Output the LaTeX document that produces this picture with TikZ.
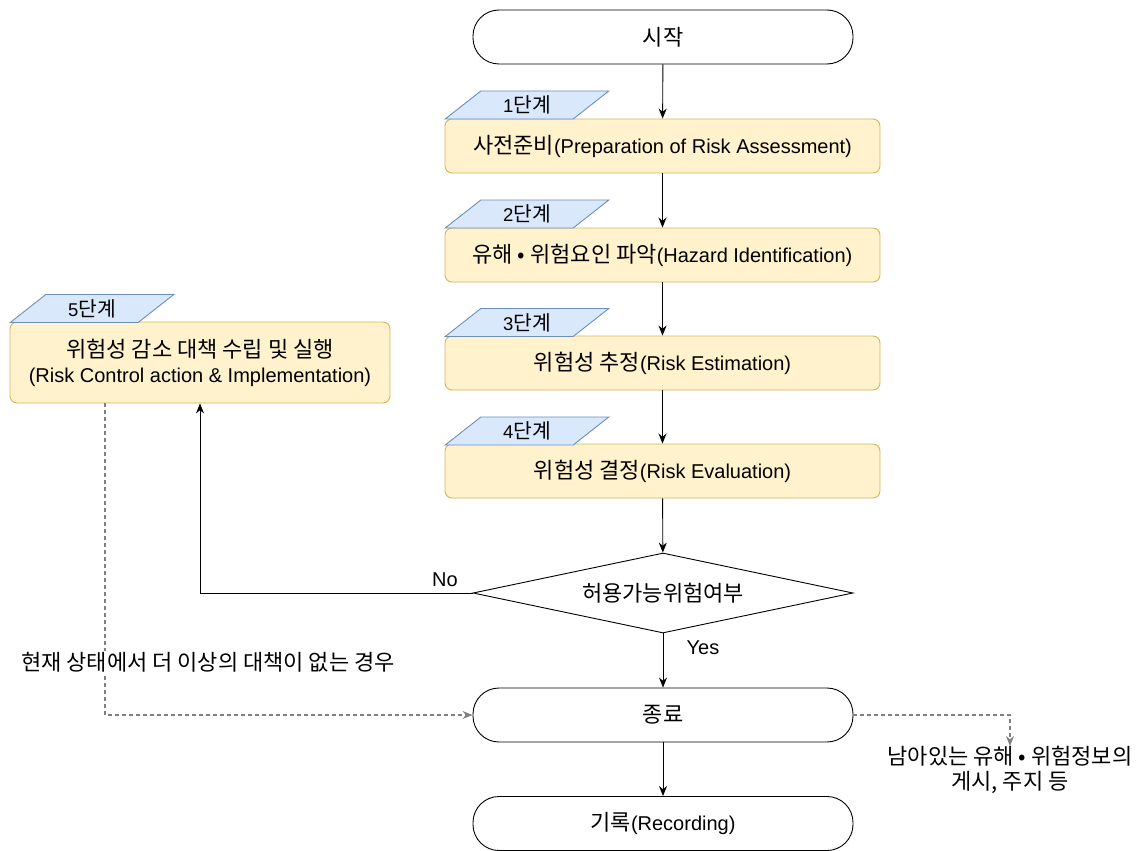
\documentclass[tikz,border=0pt]{standalone}
\usepackage{fontspec}
\setmainfont{Liberation Sans}
\newfontfamily\kr[Scale=1.1]{Noto Sans CJK KR}
\usetikzlibrary{shapes.geometric,arrows.meta}
\definecolor{boxfill}{HTML}{FFF2CC}
\definecolor{boxline}{HTML}{D6B656}
\definecolor{tagfill}{HTML}{DAE8FC}
\definecolor{tagline}{HTML}{6C8EBF}
\definecolor{dashgray}{HTML}{808080}
\begin{document}
\begin{tikzpicture}[x=1pt,y=-1pt,
  font=\fontsize{20}{25}\selectfont,
  terminal/.style={draw, line width=0.9pt, rounded corners=26pt, minimum width=380pt, minimum height=54pt, fill=white, inner sep=0pt},
  stepbox/.style={draw=boxline, fill=boxfill, line width=0.9pt, rounded corners=7pt, minimum width=435pt, minimum height=54pt, inner sep=0pt, align=center},
  tagbox/.style={trapezium, trapezium left angle=45, trapezium right angle=135, trapezium stretches=true, draw=tagline, fill=tagfill, line width=0.9pt, minimum width=164pt, minimum height=28pt, inner sep=0pt, font=\fontsize{18.5}{22}\selectfont},
  decision/.style={diamond, aspect=4.75, draw, line width=0.9pt, minimum width=380pt, minimum height=80pt, inner sep=0pt, fill=white},
  flow/.style={draw, line width=0.9pt, -{Stealth[length=10pt,width=8pt]}},
  remark/.style={draw=dashgray, line width=1.2pt, dash pattern=on 4pt off 3pt, -{Stealth[length=10pt,width=8pt]}},
  lbl/.style={inner sep=1pt}
]
\useasboundingbox (0,0) rectangle (1136,851);

% main column
\node[terminal] (start) at (663,37) {\kr 시작};
\node[stepbox] (s1) at (662.5,146) {{\kr 사전준비}(Preparation of Risk Assessment)};
\node[tagbox] (t1) at (527,105) {1{\kr 단계}};
\node[stepbox] (s2) at (662.5,255) {{\kr 유해 • 위험요인 파악}(Hazard Identification)};
\node[tagbox] (t2) at (527,214) {2{\kr 단계}};
\node[stepbox] (s3) at (662.5,363) {{\kr 위험성 추정}(Risk Estimation)};
\node[tagbox] (t3) at (527,322.5) {3{\kr 단계}};
\node[stepbox] (s4) at (662.5,471) {{\kr 위험성 결정}(Risk Evaluation)};
\node[tagbox] (t4) at (527,431) {4{\kr 단계}};
\node[decision] (dec) at (663,593) {\kr 허용가능위험여부};
\node[terminal] (end) at (663,715) {\kr 종료};
\node[terminal] (rec) at (663,823.5) {{\kr 기록}(Recording)};

% step 5 on the left
\node[stepbox, minimum width=380pt, minimum height=81pt] (s5) at (200,362.5)
  {{\kr 위험성 감소 대책 수립 및 실행}\\(Risk Control action \& Implementation)};
\node[tagbox] (t5) at (92,308.5) {5{\kr 단계}};

% connectors
\draw[flow] (start) -- (s1);
\draw[flow] (s1) -- (s2);
\draw[flow] (s2) -- (s3);
\draw[flow] (s3) -- (s4);
\draw[flow] (s4) -- (dec);
\draw[flow] (dec) -- (end);
\draw[flow] (end) -- (rec);
\coordinate (nocorner) at (200,593);
\draw[flow] (dec.west) -- (nocorner) -- (s5.south);
\node[lbl] (no) at (445,580) {No};
\node[lbl] (yes) at (703,648) {Yes};

% dashed remarks
\coordinate (s5foot) at (105,403);
\coordinate (leftcorner) at (105,715);
\draw[remark] (s5foot) -- (leftcorner) -- (end.west);
\node[lbl, fill=white] (none) at (208,662) {\kr 현재 상태에서 더 이상의 대책이 없는 경우};

\node[align=center, inner sep=0pt, font=\fontsize{20}{25}\selectfont] (post) at (1010,770)
  {\kr 남아있는 유해 • 위험정보의\\\kr 게시, 주지 등};
\coordinate (rightcorner) at (1010,715);
\draw[remark] (end.east) -- (rightcorner) -- (post.north);
\end{tikzpicture}
\end{document}
